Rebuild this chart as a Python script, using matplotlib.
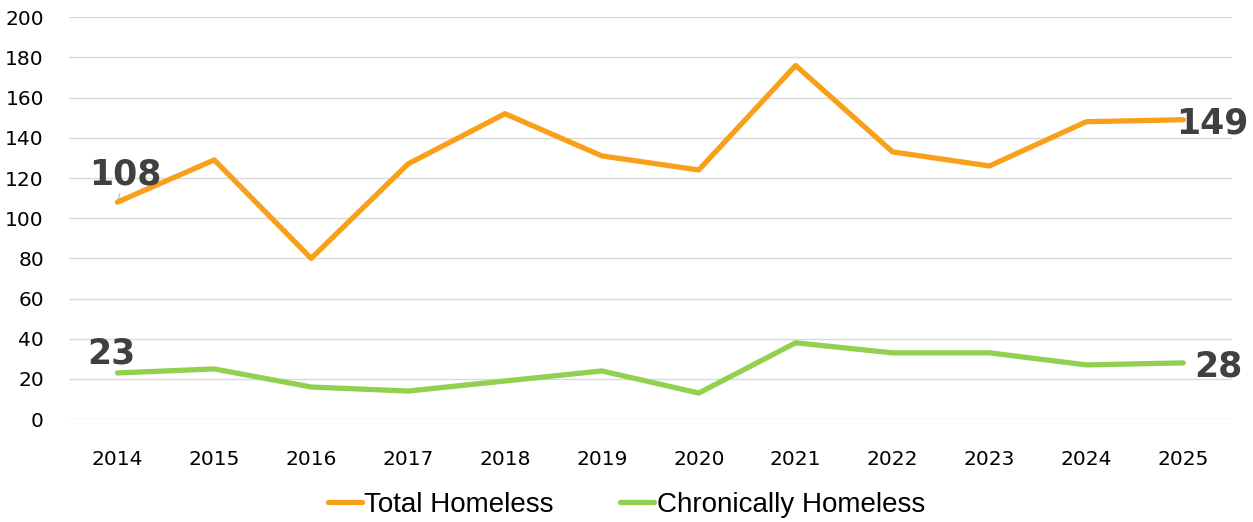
import matplotlib
matplotlib.use('Agg')
import matplotlib.pyplot as plt

years = ['2014', '2015', '2016', '2017', '2018', '2019', '2020', '2021', '2022', '2023', '2024', '2025']
total_homeless = [108, 129, 80, 127, 152, 131, 124, 176, 133, 126, 148, 149]
chronic_homeless = [23, 25, 16, 14, 19, 24, 13, 38, 33, 33, 27, 28]

fig = plt.figure(figsize=(12.53, 5.22), dpi=100)
ax = fig.add_axes([0.055, 0.197, 0.928, 0.77])

x = list(range(len(years)))
ax.plot(x, total_homeless, color='#F9A01B', linewidth=3.8, solid_capstyle='round',
        label='Total Homeless', zorder=3)
ax.plot(x, chronic_homeless, color='#92D050', linewidth=3.8, solid_capstyle='round',
        label='Chronically Homeless', zorder=3)

# labels on first and last points
lab = dict(fontsize=25, fontweight='bold', color='#404040', family='DejaVu Sans',
           textcoords='offset points', ha='left', va='baseline', zorder=4)
ax.annotate(str(total_homeless[0]), (x[0], total_homeless[0]), xytext=(-20, 13),
            arrowprops=dict(arrowstyle='-', color='#A6A6A6', lw=0.6, shrinkA=0, shrinkB=2), **lab)
ax.annotate(str(chronic_homeless[0]), (x[0], chronic_homeless[0]), xytext=(-22, 7), **lab)
ax.annotate(str(total_homeless[-1]), (x[-1], total_homeless[-1]), xytext=(-5, -10), **lab)
ax.annotate(str(chronic_homeless[-1]), (x[-1], chronic_homeless[-1]), xytext=(8, -10), **lab)

ax.set_xlim(-0.5, len(years) - 0.5)
ax.set_ylim(0, 200)
ax.set_yticks(range(0, 201, 20))
ax.set_xticks(x)
ax.set_xticklabels(years)
ax.tick_params(axis='both', length=0, labelsize=14.5, colors='#000000')
ax.tick_params(axis='x', pad=22)
ax.tick_params(axis='y', pad=18)
ax.grid(axis='y', color='#D9D9D9', linewidth=1)
ax.set_axisbelow(True)
for s in ax.spines.values():
    s.set_visible(False)

handles, labels = ax.get_legend_handles_labels()
fig.legend(handles, labels, loc='center', bbox_to_anchor=(0.5, 0.033), ncol=2, frameon=False,
           handlelength=1.2, handletextpad=0.1, columnspacing=2.4,
           prop={'family': ['Liberation Sans Narrow', 'DejaVu Sans Condensed', 'Liberation Sans'],
                 'size': 20})

fig.savefig('out.png', dpi=100)
